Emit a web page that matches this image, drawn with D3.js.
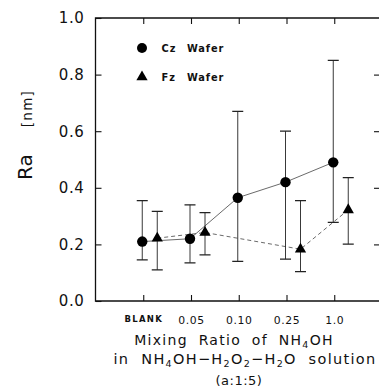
<!DOCTYPE html>
<html><head><meta charset="utf-8">
<script src="https://cdn.jsdelivr.net/npm/d3@7"></script>
<style>
body{margin:0;background:#fff;}
svg{display:block;}
text{font-family:"DejaVu Sans",sans-serif;fill:#111;}
</style></head>
<body>
<svg id="c" width="379" height="390"></svg>
<script>
// ---- data ----
const categories = ["BLANK","0.05","0.10","0.25","1.0"];
const czCats = ["BLANK","0.05","0.10","0.25","1.0"];
const czMean = [0.21, 0.22, 0.365, 0.42, 0.49];
const czHigh = [0.355, 0.34, 0.67, 0.60, 0.85];
const czLow  = [0.145, 0.135, 0.14, 0.148, 0.278];
const fzCats = ["BLANK","0.05","0.25","1.0"];
const fzMean = [0.222, 0.242, 0.183, 0.322];
const fzHigh = [0.317, 0.312, 0.355, 0.436];
const fzLow  = [0.11, 0.163, 0.104, 0.201];
const yTicks = [0.0, 0.2, 0.4, 0.6, 0.8, 1.0];
const seriesNames = ["Cz Wafer","Fz Wafer"];

const svg = d3.select("#c");
const L = 95.5, R = 382, T = 18, B = 301;
const x = d3.scalePoint().domain(categories).range([L, R]).padding(1);
const y = d3.scaleLinear().domain([0, 1]).range([B, T]);
const czOff = -1, fzOff = 14;

// frame
const frame = svg.append("g").attr("stroke","#111").attr("stroke-width",1.3).attr("fill","none");
frame.append("path").attr("d",`M${R},${T}H${L}V${B}H${R}`);

// left axis (ticks inward)
const yAxis = d3.axisLeft(y).tickValues(yTicks).tickSize(-6).tickPadding(11).tickFormat(d3.format(".1f"));
const gy = svg.append("g").attr("transform",`translate(${L},0)`).call(yAxis);
gy.select(".domain").remove();
gy.selectAll("line").attr("stroke","#111").attr("stroke-width",1.1);
gy.selectAll("text").style("font-size","15px").style("letter-spacing","0.6px").attr("fill","#111");

// right ticks
const gr = svg.append("g").attr("transform",`translate(${R},0)`)
  .call(d3.axisRight(y).tickValues(yTicks.slice(1,5)).tickSize(-8).tickFormat(""));
gr.select(".domain").remove();
gr.selectAll("line").attr("stroke","#111").attr("stroke-width",1.1);

// bottom axis
const xAxis = d3.axisBottom(x).tickSize(-6).tickPadding(15);
const gx = svg.append("g").attr("transform",`translate(0,${B})`).call(xAxis);
gx.select(".domain").remove();
gx.selectAll("line").attr("stroke","#111").attr("stroke-width",1.1);
gx.selectAll("text")
  .style("font-size", d => d==="BLANK" ? "8.5px" : "10.8px")
  .style("font-weight", d => d==="BLANK" ? "bold" : "normal")
  .style("letter-spacing", d => d==="BLANK" ? "1.3px" : "0.6px")
  .attr("fill","#111");

// top ticks
const gt = svg.append("g").attr("transform",`translate(0,${T})`)
  .call(d3.axisTop(x).tickSize(-6).tickFormat(""));
gt.select(".domain").remove();
gt.selectAll("line").attr("stroke","#111").attr("stroke-width",1.1);

// series data
const cz = czCats.map((c,i)=>({c, m:czMean[i], hi:czHigh[i], lo:czLow[i], px:x(c)+czOff}));
const fz = fzCats.map((c,i)=>({c, m:fzMean[i], hi:fzHigh[i], lo:fzLow[i], px:x(c)+fzOff}));

// connecting lines
const line = d3.line().x(d=>d.px).y(d=>y(d.m));
svg.append("path").datum(cz).attr("d",line).attr("fill","none").attr("stroke","#444").attr("stroke-width",0.8);
svg.append("path").datum(fz).attr("d",line).attr("fill","none").attr("stroke","#444").attr("stroke-width",0.8).attr("stroke-dasharray","4,3");

// error bars
function errBars(data){
  const g = svg.append("g").attr("stroke","#222").attr("stroke-width",0.9).attr("fill","none");
  g.selectAll("path.v").data(data).join("path").attr("class","v")
    .attr("d",d=>`M${d.px},${y(d.lo)}V${y(d.hi)}`);
  g.selectAll("path.c").data(data).join("path").attr("class","c")
    .attr("stroke-width",1.2)
    .attr("d",d=>`M${d.px-5.5},${y(d.hi)}H${d.px+5.5}M${d.px-5.5},${y(d.lo)}H${d.px+5.5}`);
}
errBars(cz); errBars(fz);

// markers
svg.append("g").selectAll("circle").data(cz).join("circle")
  .attr("cx",d=>d.px).attr("cy",d=>y(d.m)).attr("r",5.2).attr("fill","#000");
const tri = d3.symbol().type(d3.symbolTriangle).size(55);
svg.append("g").selectAll("path").data(fz).join("path")
  .attr("d",tri).attr("transform",d=>`translate(${d.px},${y(d.m)})`).attr("fill","#000");

// legend
const lg = svg.append("g");
lg.append("circle").attr("cx",142).attr("cy",48).attr("r",5).attr("fill","#000");
lg.append("path").attr("d",tri).attr("transform","translate(142,77)").attr("fill","#000");
[[seriesNames[0],51.7],[seriesNames[1],80.7]].forEach(([s,by])=>{
  const parts = s.split(" ");
  lg.append("text").attr("x",161.5).attr("y",by).text(parts[0])
    .style("font-size","9.8px").style("font-weight","bold").style("letter-spacing","1px");
  lg.append("text").attr("x",187).attr("y",by).text(parts[1])
    .style("font-size","9.8px").style("font-weight","bold").style("letter-spacing","0.9px");
});

// y title
const yt = svg.append("text").attr("transform","translate(31.5,180) rotate(-90)");
yt.append("tspan").text("Ra").style("font-size","20px");
yt.append("tspan").attr("dx",27).text("[nm]").style("font-size","13.5px").style("letter-spacing","1.3px");

// x title
const cx = 239;
svg.append("text").attr("x",cx-5).attr("y",344.5).attr("text-anchor","middle")
  .style("font-size","14px").style("letter-spacing","1.3px").style("word-spacing","5px")
  .html('Mixing Ratio of NH<tspan font-size="9.5px" dy="3">4</tspan><tspan dy="-3">OH</tspan>');
svg.append("text").attr("x",cx+6).attr("y",364).attr("text-anchor","middle")
  .style("font-size","14.5px").style("letter-spacing","1.3px").style("word-spacing","6px")
  .html('in NH<tspan font-size="9.5px" dy="3">4</tspan><tspan dy="-3">OH−H</tspan><tspan font-size="9.5px" dy="3">2</tspan><tspan dy="-3">O</tspan><tspan font-size="9.5px" dy="3">2</tspan><tspan dy="-3">−H</tspan><tspan font-size="9.5px" dy="3">2</tspan><tspan dy="-3">O solution</tspan>');
svg.append("text").attr("x",cx).attr("y",384.5).attr("text-anchor","middle")
  .style("font-size","13px").style("letter-spacing","0.5px").text("(a:1:5)");
</script>
</body></html>
